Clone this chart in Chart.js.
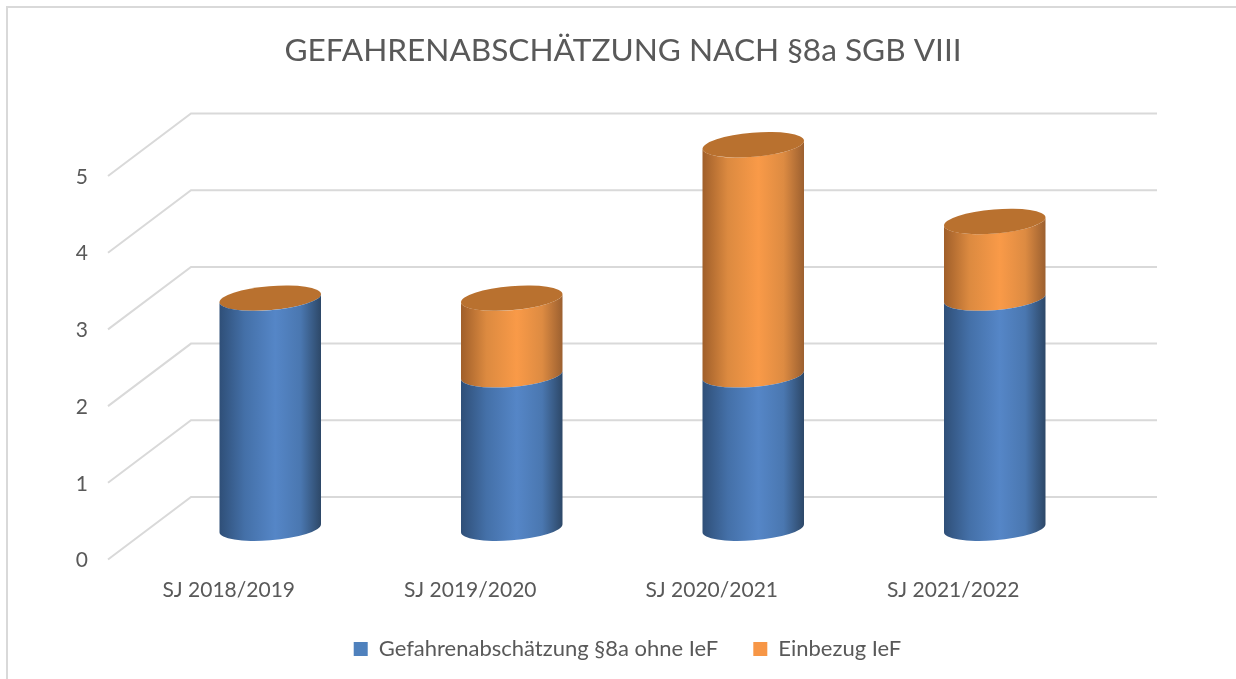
<!DOCTYPE html>
<html><head><meta charset="utf-8">
<style>html,body{margin:0;padding:0;background:#fff;overflow:hidden}canvas{display:block}</style>
<script src="https://cdn.jsdelivr.net/npm/chart.js@4/dist/chart.umd.min.js"></script>
</head><body>
<canvas id="c" width="1236" height="679"></canvas>
<script>
const titleText = 'GEFAHRENABSCHÄTZUNG NACH §8a SGB VIII';
const categories = ['SJ 2018/2019', 'SJ 2019/2020', 'SJ 2020/2021', 'SJ 2021/2022'];
const ohneIeF = [3, 2, 2, 3];
const einbezugIeF = [0, 1, 3, 1];
const seriesNames = ['Gefahrenabschätzung §8a ohne IeF', 'Einbezug IeF'];
const tickValues = [0, 1, 2, 3, 4, 5];

const FONT = 'Lato, Carlito, sans-serif';
const TEXT = '#595959', GRID = '#d9d9d9';
const BLUE = '#4f81bd', ORANGE = '#f79646', CAP = '#b9712f';
const DEPTH_X = 83, DEPTH_Y = 62.5;
const shades = {
  [BLUE]: ['#2f4f78', '#4470a8', '#5586c7', '#4a77b0', '#2d4868'],
  [ORANGE]: ['#a05f2a', '#dc8a40', '#f99a48', '#dd8b42', '#9c6030']
};
const TILT = -4.8 * Math.PI / 180, MINOR = 12;

Chart.BarElement.prototype.draw = function (ctx) {
  const o = this.options, w = this.width, hw = w / 2;
  const cx = this.x + DEPTH_X / 2, a = hw * 1.004, t0 = Math.atan(MINOR * Math.sin(-TILT) / (a * Math.cos(TILT)));
  const top = this.y - DEPTH_Y / 2, bot = this.base - DEPTH_Y / 2;
  const g = ctx.createLinearGradient(cx - hw, 0, cx + hw, 0);
  const s = shades[o.backgroundColor];
  [0, .25, .55, .8, 1].forEach((p, i) => g.addColorStop(p, s[i]));
  ctx.save();
  ctx.fillStyle = g;
  ctx.beginPath();
  ctx.ellipse(cx, top, a, MINOR, TILT, t0, t0 + Math.PI, false);
  ctx.ellipse(cx, bot, a, MINOR, TILT, t0 + Math.PI, t0, true);
  ctx.closePath();
  ctx.fill();
  if (o.backgroundColor === ORANGE) {
    ctx.fillStyle = CAP;
    ctx.beginPath();
    ctx.ellipse(cx, top, a, MINOR, TILT, 0, Math.PI * 2);
    ctx.fill();
  }
  ctx.restore();
};

const wall = {
  id: 'wall',
  afterLayout(chart) {
    chart.legend.left += 4.5;
    chart.legend.right += 4.5;
  },
  beforeDraw(chart) {
    const c = chart.ctx;
    c.save();
    c.strokeStyle = GRID; c.lineWidth = 2;
    c.beginPath(); c.moveTo(7, 679); c.lineTo(7, 7); c.lineTo(1236, 7); c.stroke();
    c.restore();
  },
  beforeDatasetsDraw(chart) {
    const c = chart.ctx, y = chart.scales.y, a = chart.chartArea;
    c.save();
    c.strokeStyle = GRID; c.lineWidth = 2;
    y.ticks.forEach(t => {
      const py = y.getPixelForValue(t.value);
      c.beginPath();
      c.moveTo(a.left, py);
      c.lineTo(a.left + DEPTH_X, py - DEPTH_Y);
      c.lineTo(a.right + DEPTH_X, py - DEPTH_Y);
      c.stroke();
    });
    c.restore();
  }
};
const rightGap = {
  id: 'rightGap',
  beforeInit(chart) {
    Chart.layouts.addBox(chart, {
      position: 'right', weight: 0, fullSize: false, options: {},
      isHorizontal: () => false,
      update(mw, mh) { this.width = 162; this.height = mh; },
      getPadding: () => ({ left: 0, right: 0, top: 0, bottom: 0 }),
      draw() {}
    });
  }
};

new Chart(document.getElementById('c'), {
  type: 'bar',
  data: {
    labels: categories,
    datasets: [
      { label: seriesNames[0], data: ohneIeF, backgroundColor: BLUE, clip: false },
      { label: seriesNames[1], data: einbezugIeF, backgroundColor: ORANGE, clip: false }
    ]
  },
  plugins: [wall, rightGap],
  options: {
    responsive: false, animation: false,
    barPercentage: 0.7, categoryPercentage: 0.6,
    layout: { padding: { left: 10, bottom: 9 } },
    scales: {
      x: {
        stacked: true,
        afterFit: s => { s.height = 43.5; },
        grid: { display: false }, border: { display: false },
        ticks: { color: TEXT, font: { family: FONT, size: 21 }, padding: 10, maxRotation: 0 }
      },
      y: {
        stacked: true, min: 0, max: 5,
        afterFit: s => { s.width = 98; },
        afterBuildTicks: s => { s.ticks = tickValues.map(v => ({ value: v })); },
        grid: { display: false }, border: { display: false },
        ticks: { color: TEXT, font: { family: FONT, size: 21 }, padding: 12, labelOffset: 1 }
      }
    },
    plugins: {
      tooltip: { enabled: false },
      title: {
        display: true, text: titleText, color: TEXT,
        font: { family: FONT, size: 31.6, weight: 'normal' },
        padding: { top: 32, bottom: 106.1 }
      },
      legend: {
        position: 'bottom',
        labels: { color: TEXT, font: { family: FONT, size: 22 }, boxWidth: 14, boxHeight: 14, padding: 35 }
      }
    }
  }
});
</script>
</body></html>
